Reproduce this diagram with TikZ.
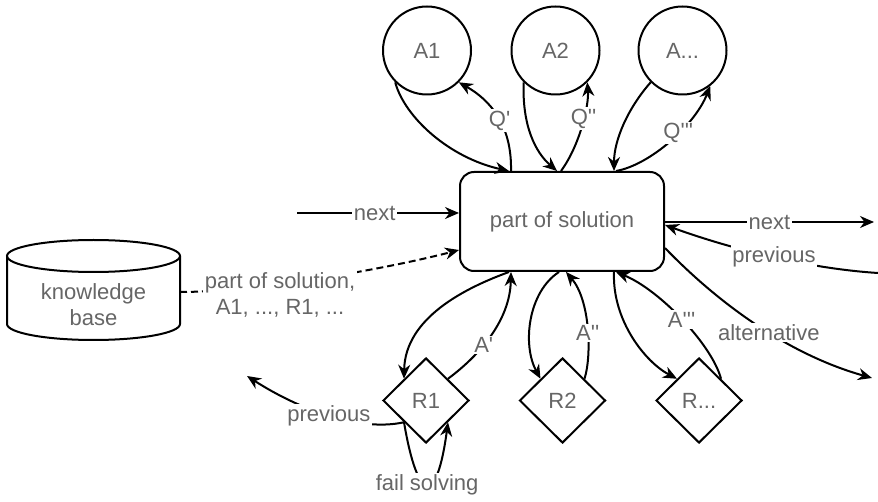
\documentclass[tikz,border=0pt]{standalone}
\usepackage{fontspec}
\newfontfamily\dfont{Liberation Sans}
\usetikzlibrary{shapes.geometric,arrows.meta}
\definecolor{txtgray}{RGB}{102,102,102}
\begin{document}
\begin{tikzpicture}[x=1pt,y=-1pt,
  every node/.style={font=\dfont\fontsize{22}{26}\selectfont, text=txtgray},
  ln/.style={line width=2pt, draw=black},
  tip/.style={-{Stealth[length=14pt,width=12pt,inset=4.5pt]}},
  arr/.style={ln, tip},
  lbl/.style={fill=white, inner sep=1.5pt},
  agent/.style={circle, ln, minimum size=88pt, inner sep=0pt},
  rule/.style={diamond, ln, minimum width=86pt, minimum height=85pt, inner sep=0pt},
  dbline/.style={line width=2pt, dash pattern=on 7pt off 4pt}]
\useasboundingbox (0,0) rectangle (878,502);

% central box
\node[ln, rounded corners=14pt, minimum width=204pt, minimum height=99pt] (sol) at (562,221.5) {part of solution};

% agents
\node[agent] (A1) at (427,50.5) {A1};
\node[agent] (A2) at (555.5,50.5) {A2};
\node[agent] (A3) at (682.5,50.5) {A...};

% rules
\node[rule] (R1) at (426,400.5) {R1};
\node[rule] (R2) at (562.5,400.5) {R2};
\node[rule] (R3) at (699,400.5) {R...};

% knowledge base cylinder
\filldraw[fill=white, line width=2pt] (7,256) -- (7,324)
  arc[start angle=180, end angle=360, x radius=86.5pt, y radius=16pt] -- (180,256);
\draw[line width=2pt] (93.5,256) ellipse [x radius=86.5pt, y radius=16pt];
\node[align=center] (kb) at (93.5,305) {knowledge\\base};
\coordinate (kbe) at (180,292);

% free ends
\coordinate (nl) at (297,213);
\coordinate (nr) at (874,222);
\coordinate (pr) at (878,273);
\coordinate (alt) at (872,378);
\coordinate (pl) at (247,376);

% agents and the box
\draw[arr] (A1.225) .. controls (405,118) and (450,158) .. ([xshift=50pt]sol.north west);
\draw[arr] ([xshift=52pt]sol.north west) .. controls (512,125) and (490,100) .. (A1.315)
  node[lbl, pos=0.45] (q1) {Q'};
\draw[arr] (A2.225) .. controls (522,125) and (535,152) .. ([xshift=98pt]sol.north west);
\draw[arr] ([xshift=102pt]sol.north west) .. controls (580,145) and (589,105) .. (A2.315)
  node[lbl, pos=0.57] (q2) {Q''};
\draw[arr] (A3.225) .. controls (628,108) and (614,140) .. ([xshift=155pt]sol.north west);
\draw[arr] ([xshift=157pt]sol.north west) .. controls (650,165) and (695,125) .. (A3.308)
  node[lbl, pos=0.58] (q3) {Q'''};

% sequence
\draw[arr] (nl) -- (nl -| sol.west) node[lbl, pos=0.48] (n1) {next};
\draw[arr] ([yshift=-0.5pt]sol.east) -- (nr) node[lbl, pos=0.5] (n2) {next};
\draw[arr] (pr) .. controls (800,268) and (720,245) .. ([yshift=-3.5pt]sol.east)
  node[lbl, pos=0.45] (p2) {previous};
\draw[arr] ([yshift=-26.5pt]sol.east) .. controls (720,305) and (790,355) .. (alt)
  node[lbl, pos=0.55] (al) {alternative};

% knowledge base access
\draw[dbline, tip] (kbe) .. controls (250,292) and (378,271) .. ([yshift=-28.5pt]sol.west);
\node[lbl, align=center] (kbl) at (280,295) {part of solution,\\A1, ..., R1, ...};

% rules and the box
\draw[arr] ([xshift=50pt]sol.south west) .. controls (465,288) and (405,318) .. (R1.north west);
\draw[arr] (R1.north east) .. controls (480,355) and (510,320) .. ([xshift=52pt]sol.south west)
  node[lbl, pos=0.4] (a1) {A'};
\draw[arr] ([xshift=100pt]sol.south west) .. controls (528,292) and (522,345) .. (R2.north west);
\draw[arr] (R2.north east) .. controls (592,355) and (590,300) .. ([xshift=107pt]sol.south west)
  node[lbl, pos=0.45] (a2) {A''};
\draw[arr] ([xshift=155pt]sol.south west) .. controls (612,320) and (645,362) .. (R3.north west);
\draw[arr] (R3.north east) .. controls (712,345) and (660,290) .. ([xshift=157pt]sol.south west)
  node[lbl, pos=0.5] (a3) {A'''};

% backtracking from R1
\draw[arr] (R1.south west) .. controls (360,432) and (300,410) .. (pl)
  node[lbl, pos=0.5] (p1) {previous};
\draw[arr] (R1.south west) .. controls (418,505) and (437,505) .. (R1.south east)
  node[lbl, pos=0.5] (fs) {fail solving};
\end{tikzpicture}
\end{document}
